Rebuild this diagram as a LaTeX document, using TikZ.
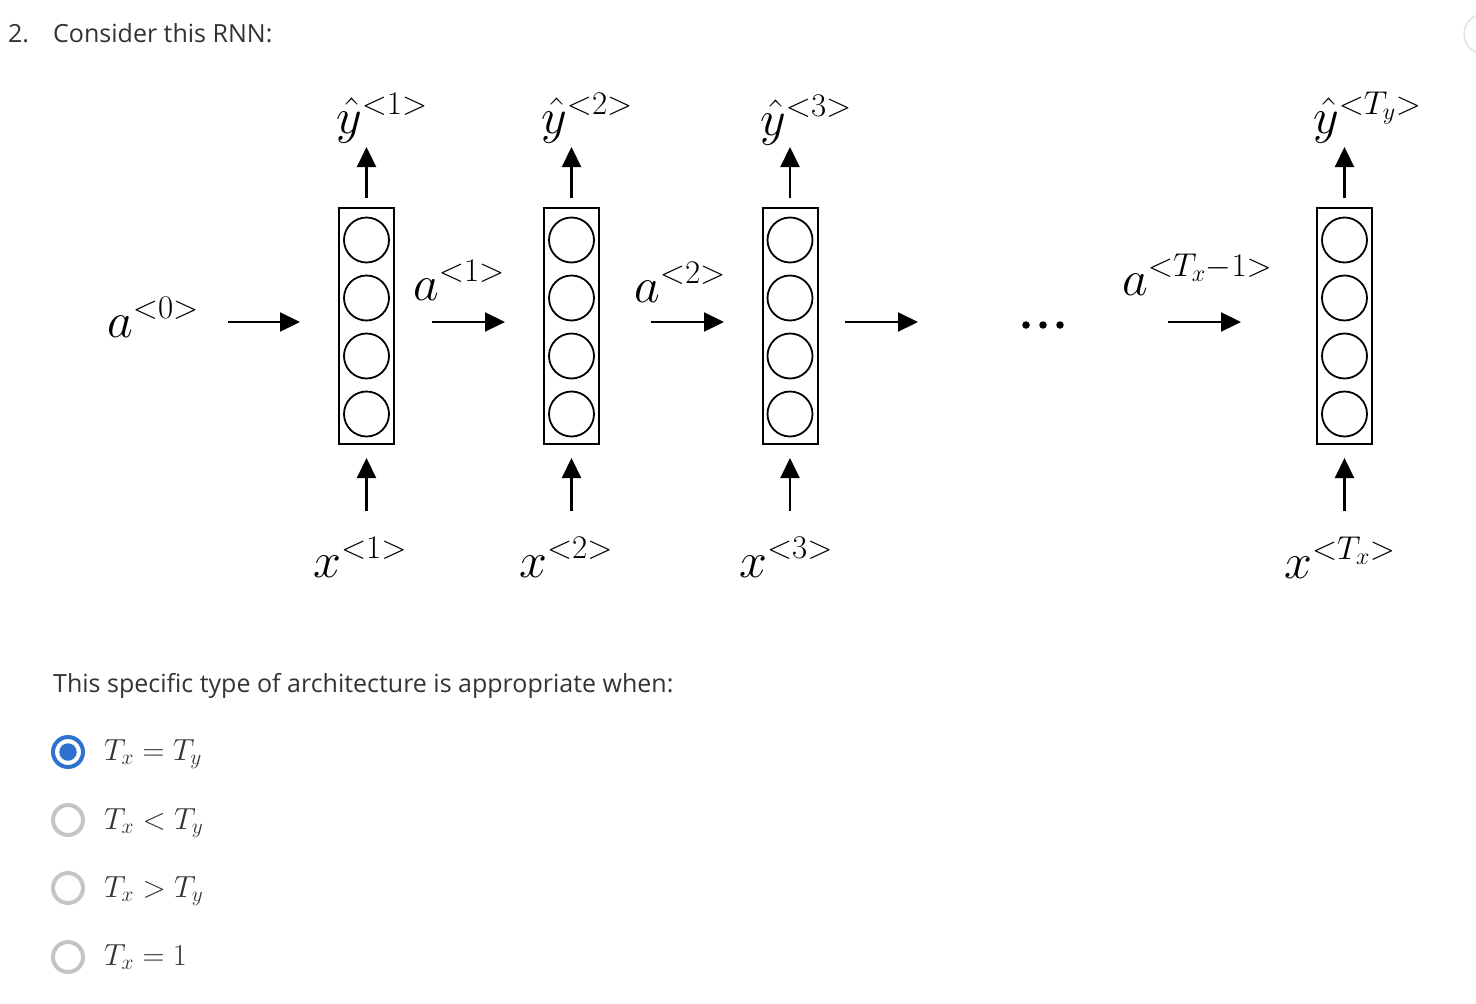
\RequirePackage{fix-cm}
\documentclass[tikz,border=0pt]{standalone}
\usepackage{fontspec}
\newfontfamily\uifont{Open Sans}
\usetikzlibrary{arrows.meta}
\DeclareMathSizes{50}{50}{33}{24}
\definecolor{uitext}{HTML}{333333}
\definecolor{radioblue}{HTML}{2D72CE}
\definecolor{radiogrey}{HTML}{C4C4C4}
\definecolor{edgegrey}{HTML}{E2E2E2}
\begin{document}
\begin{tikzpicture}[x=1pt,y=-1pt,
  cellbox/.style={draw, line width=2pt, minimum width=55pt, minimum height=236pt, inner sep=0pt},
  unit/.style={draw, circle, line width=1.8pt, minimum size=45pt, inner sep=0pt},
  lbl/.style={anchor=base west, inner sep=0pt, font=\fontsize{50}{60}\selectfont},
  arr/.style={line width=2.2pt, -{Triangle[length=20pt,width=19pt]}},
  ui/.style={anchor=base west, inner sep=0pt, text=uitext, font=\uifont\fontsize{25}{30}\selectfont},
  opt/.style={anchor=base west, inner sep=0pt, text=uitext, font=\fontsize{30.5}{36}\selectfont},
  radio/.style={draw=radiogrey, circle, line width=4pt, minimum size=30pt, inner sep=0pt},
  dotmark/.style={circle, fill=black, minimum size=7.5pt, inner sep=0pt},
]
\useasboundingbox (0,0) rectangle (1476,1004);
\fill[white] (0,0) rectangle (1476,1004);

% partial UI circle at the right edge
\node[draw=edgegrey, circle, line width=1.5pt, minimum size=40pt, inner sep=0pt] (hint) at (1484,34) {};

% heading and question
\node[ui] (num) at (8,42) {2.};
\node[ui] (title) at (53,42) {Consider this RNN:};
\node[ui] (question) at (53,692) {This specific type of architecture is appropriate when:};

% cells
\node[cellbox] (c1) at (366.5,326) {};
\node[cellbox] (c2) at (571.5,326) {};
\node[cellbox] (c3) at (790,326) {};
\node[cellbox] (c4) at (1344.5,326) {};
\foreach \c/\x in {1/366.5,2/571.5,3/790,4/1344.5} {
  \foreach \k/\y in {1/240,2/298,3/356,4/414} {
    \node[unit] (c\c u\k) at (\x,\y) {};
  }
  \draw[arr] ([yshift=9pt]c\c.north) -- ([yshift=60pt]c\c.north);
  \draw[arr] ([yshift=-66pt]c\c.south) -- ([yshift=-13pt]c\c.south);
}

% output labels
\node[lbl] (y1) at (336,133) {$\hat{y}^{<1>}$};
\node[lbl] (y2) at (541,133) {$\hat{y}^{<2>}$};
\node[lbl] (y3) at (760,135) {$\hat{y}^{<3>}$};
\node[lbl] (y4) at (1313,133) {$\hat{y}^{<T_y>}$};

% input labels
\node[lbl] (x1) at (313,577) {$x^{<1>}$};
\node[lbl] (x2) at (519,577) {$x^{<2>}$};
\node[lbl] (x3) at (739,577) {$x^{<3>}$};
\node[lbl] (x4) at (1284,578) {$x^{<T_x>}$};

% activation labels
\node[lbl] (a0) at (107,337) {$a^{<0>}$};
\node[lbl] (a1) at (413,300) {$a^{<1>}$};
\node[lbl] (a2) at (634,302) {$a^{<2>}$};
\node[lbl] (a4) at (1122,295) {$a^{<T_x-1>}$};

% ellipsis
\node[dotmark] (d1) at (1026,325) {};
\node[dotmark] (d2) at (1043,325) {};
\node[dotmark] (d3) at (1060,325) {};

% horizontal arrows
\coordinate (h0s) at (228,322); \coordinate (h0e) at (300,322);
\coordinate (h1s) at (432,322); \coordinate (h1e) at (505,322);
\coordinate (h2s) at (651,322); \coordinate (h2e) at (724,322);
\coordinate (h3s) at (845,322); \coordinate (h3e) at (918,322);
\coordinate (h4s) at (1168,322); \coordinate (h4e) at (1241,322);
\foreach \i in {0,...,4} { \draw[arr] (h\i s) -- (h\i e); }

% radio options
\node[radio, draw=radioblue] (r1) at (68,752) {};
\node[circle, fill=radioblue, minimum size=17.5pt, inner sep=0pt] (r1dot) at (r1) {};
\node[radio] (r2) at (68,820) {};
\node[radio] (r3) at (68,888) {};
\node[radio] (r4) at (68,957) {};
\node[opt] (o1) at (104,760) {$T_x = T_y$};
\node[opt] (o2) at (104,829) {$T_x < T_y$};
\node[opt] (o3) at (104,897) {$T_x > T_y$};
\node[opt] (o4) at (104,965) {$T_x = 1$};
\end{tikzpicture}
\end{document}
